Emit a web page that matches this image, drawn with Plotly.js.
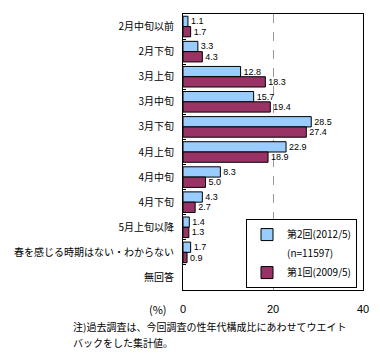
<!DOCTYPE html>
<html><head><meta charset="utf-8">
<script src="https://cdn.plot.ly/plotly-3.0.1.min.js"></script>
<style>body{margin:0;background:#fff}#c{width:380px;height:356px}</style>
</head><body><div id="c"></div>
<script>
const categories = ["2月中旬以前","2月下旬","3月上旬","3月中旬","3月下旬","4月上旬","4月中旬","4月下旬","5月上旬以降","春を感じる時期はない・わからない","無回答"];
const series2012 = [1.1,3.3,12.8,15.7,28.5,22.9,8.3,4.3,1.4,1.7,null];
const series2009 = [1.7,4.3,18.3,19.4,27.4,18.9,5.0,2.7,1.3,0.9,null];
const name2012 = "第2回(2012/5)";
const sampleNote = "(n=11597)";
const name2009 = "第1回(2009/5)";
const xTicks = [0,20,40];

const font = "'Noto Sans CJK JP', sans-serif";
const numFont = "'Liberation Sans', Arial, sans-serif";
function bar(vals, name, color, rank){
  return {type:"bar", orientation:"h", y:categories, x:vals, name:name, legendrank:rank,
    marker:{color:color, line:{color:"#000", width:1}},
    text:vals.map(v=>v==null?"":v.toFixed(1)), textposition:"outside", constraintext:"none",
    textfont:{family:numFont,size:9,color:"#000"}, cliponaxis:false, hoverinfo:"none"};
}
const data=[
  bar(series2012,name2012,"#99CCFF",1),
  {type:"scatter",mode:"markers",x:[null],y:[null],name:sampleNote,legendrank:2,
   marker:{color:"rgba(0,0,0,0)",size:1},hoverinfo:"none"},
  bar(series2009,name2009,"#993366",3)
];
const layout={
  width:380,height:356,margin:{l:183,r:17,t:14,b:66},
  paper_bgcolor:"#fff",plot_bgcolor:"#fff",
  font:{family:font,size:10,color:"#000"},
  barmode:"group",bargap:0.18,bargroupgap:0,
  showlegend:true,
  legend:{x:0.35,y:0.257,xanchor:"left",yanchor:"top",bordercolor:"#000",borderwidth:1,
    bgcolor:"#fff",font:{family:font,size:10},traceorder:"normal",tracegroupgap:0,
    itemwidth:30},
  xaxis:{range:[0,40],tickvals:xTicks,showgrid:true,gridcolor:"#999",griddash:"dash",gridwidth:1,
    showline:true,linecolor:"#000",mirror:true,zeroline:false,ticks:"",
    tickfont:{family:numFont,size:11},ticklabelstandoff:9,fixedrange:true},
  yaxis:{autorange:"reversed",showline:true,linecolor:"#000",mirror:true,
    ticks:"inside",ticklen:3,tickson:"boundaries",tickcolor:"#000",
    tickfont:{family:font,size:10},ticklabelstandoff:6,showgrid:false},
  annotations:[
    {text:"(%)",xref:"paper",yref:"paper",x:-0.14,y:-0.07,xanchor:"center",yanchor:"middle",showarrow:false,font:{size:11}},
    {text:"注)過去調査は、今回調査の性年代構成比にあわせてウエイト",xref:"paper",yref:"paper",x:-0.625,y:-0.134,xanchor:"left",yanchor:"middle",showarrow:false,font:{size:10}},
    {text:"バックをした集計値。",xref:"paper",yref:"paper",x:-0.625,y:-0.192,xanchor:"left",yanchor:"middle",showarrow:false,font:{size:10}}
  ]
};
Plotly.newPlot("c",data,layout,{staticPlot:true,displayModeBar:false});
</script></body></html>
